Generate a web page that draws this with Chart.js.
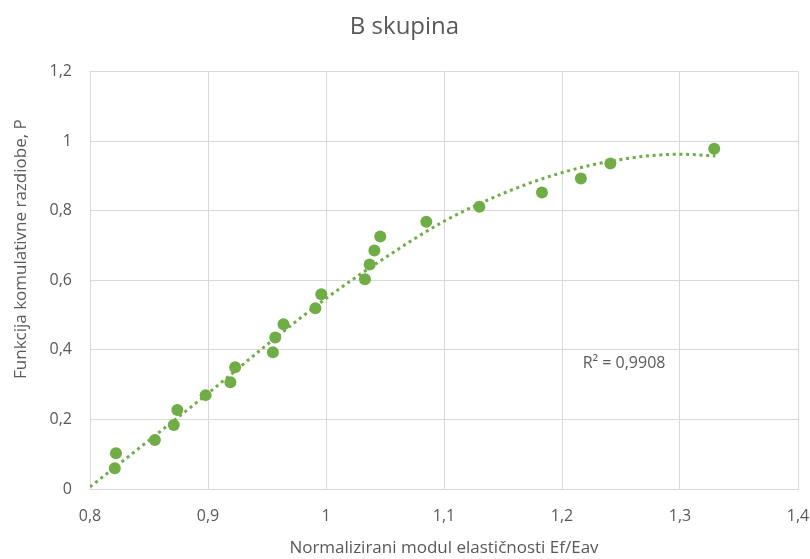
<!DOCTYPE html>
<html>
<head>
<meta charset="utf-8">
<script src="https://cdn.jsdelivr.net/npm/chart.js@4"></script>
<style>
html,body{margin:0;padding:0;background:#fff;}
#wrap{width:810px;height:559px;position:relative;}
</style>
</head>
<body>
<div id="wrap"><canvas id="c" width="810" height="559"></canvas></div>
<script>
// Measured points: normalised modulus Ef/Eav vs cumulative distribution P
const xValues = [0.821, 0.822, 0.855, 0.871, 0.874, 0.898, 0.919, 0.923, 0.955, 0.957, 0.964, 0.991, 0.996, 1.033, 1.037, 1.041, 1.046, 1.085, 1.130, 1.183, 1.216, 1.241, 1.329];
const yValues = [0.060, 0.103, 0.141, 0.184, 0.227, 0.270, 0.307, 0.350, 0.393, 0.436, 0.474, 0.520, 0.560, 0.603, 0.646, 0.686, 0.726, 0.769, 0.812, 0.853, 0.893, 0.936, 0.979];
// Polynomial trendline
const trendX = [0.80, 0.85, 0.90, 0.95, 1.00, 1.05, 1.10, 1.15, 1.20, 1.25, 1.30, 1.33];
const trendY = [0.006, 0.140, 0.275, 0.415, 0.548, 0.665, 0.770, 0.850, 0.910, 0.948, 0.963, 0.958];
const xTickLabels = ['0,8', '0,9', '1', '1,1', '1,2', '1,3', '1,4'];
const yTickLabels = ['0', '0,2', '0,4', '0,6', '0,8', '1', '1,2'];
const chartTitle = 'B skupina';
const xTitle = 'Normalizirani modul elastičnosti Ef/Eav';
const yTitle = 'Funkcija komulativne razdiobe, P';
const r2Label = 'R² = 0,9908';

const green = '#70AD47';
const textGrey = '#595959';
const gridGrey = '#D9D9D9';
const fontFam = '"Open Sans", "Noto Sans", sans-serif';

const points = xValues.map((x, i) => ({x: x, y: yValues[i]}));
const trend = trendX.map((x, i) => ({x: x, y: trendY[i]}));

const extraText = {
  id: 'extraText',
  afterDatasetsDraw(chart) {
    const {ctx, scales} = chart;
    ctx.save();
    // R² label placed in data space
    ctx.font = '16px ' + fontFam;
    ctx.fillStyle = textGrey;
    ctx.textAlign = 'left';
    ctx.textBaseline = 'middle';
    ctx.fillText(r2Label, scales.x.getPixelForValue(1.2175), scales.y.getPixelForValue(0.36));
    // y axis title
    ctx.font = '17px ' + fontFam;
    ctx.textAlign = 'center';
    ctx.translate(21, scales.y.getPixelForValue(0.69));
    ctx.rotate(-Math.PI / 2);
    ctx.fillText(yTitle, 0, 0);
    ctx.restore();
  }
};

new Chart(document.getElementById('c'), {
  type: 'scatter',
  data: {
    datasets: [
      {
        label: 'P',
        data: points,
        backgroundColor: green,
        borderColor: green,
        pointRadius: 6,
        pointHoverRadius: 6,
        pointBorderWidth: 0,
        showLine: false,
        order: 1
      },
      {
        label: 'trend',
        data: trend,
        showLine: true,
        borderColor: green,
        borderWidth: 3,
        borderDash: [3, 3.7],
        pointRadius: 0,
        fill: false,
        cubicInterpolationMode: 'monotone',
        order: 2
      }
    ]
  },
  options: {
    responsive: false,
    animation: false,
    devicePixelRatio: 1,
    layout: {padding: {left: 0, right: 1, top: 0, bottom: 1}},
    plugins: {
      legend: {display: false},
      tooltip: {enabled: false},
      title: {
        display: true,
        text: chartTitle,
        color: textGrey,
        font: {family: fontFam, size: 24, weight: 'normal'},
        padding: {top: 13, bottom: 30}
      }
    },
    scales: {
      x: {
        type: 'linear',
        min: 0.8,
        max: 1.4,
        ticks: {
          stepSize: 0.1,
          color: textGrey,
          font: {family: fontFam, size: 16},
          padding: 18,
          maxRotation: 0,
          callback: (v, i) => xTickLabels[i]
        },
        grid: {color: gridGrey, lineWidth: 1, drawTicks: false},
        border: {color: gridGrey},
        title: {
          display: true,
          text: xTitle,
          color: textGrey,
          font: {family: fontFam, size: 17},
          padding: {top: 11, bottom: 0}
        },
        afterFit(scale) { scale.height = 69; scale.paddingRight = 12; }
      },
      y: {
        type: 'linear',
        min: 0,
        max: 1.2,
        ticks: {
          stepSize: 0.2,
          color: textGrey,
          font: {family: fontFam, size: 16},
          padding: 18,
          callback: (v, i) => yTickLabels[i]
        },
        grid: {color: gridGrey, lineWidth: 1, drawTicks: false},
        border: {color: gridGrey},
        title: {display: false, text: yTitle},
        afterFit(scale) { scale.width = 90; }
      }
    }
  },
  plugins: [extraText]
});
</script>
</body>
</html>
